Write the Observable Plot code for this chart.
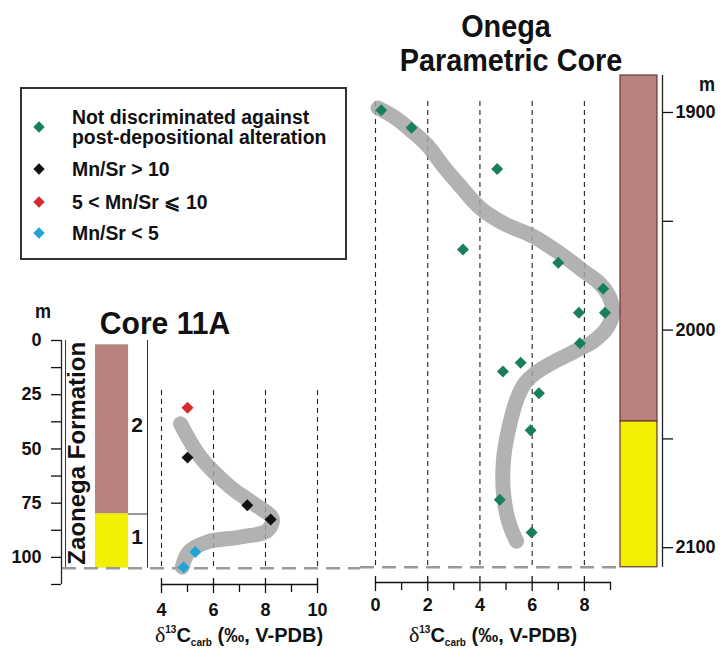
<!DOCTYPE html>
<html><head><meta charset="utf-8">
<script src="https://cdn.jsdelivr.net/npm/d3@7"></script>
<script src="https://cdn.jsdelivr.net/npm/@observablehq/plot@0.6"></script>
<style>
body{margin:0;background:#fff;}
#root{position:relative;width:725px;height:659px;overflow:hidden;font-family:"Liberation Sans",Arial,sans-serif;font-weight:bold;color:#111;}
#root svg{position:absolute;top:0;overflow:visible;background:transparent;}
.t{position:absolute;white-space:nowrap;line-height:1;}
.ttl{font-size:32px;transform:translate(-50%,-50%) scaleX(0.9);}
.lg{font-size:20px;line-height:20px;transform-origin:0 50%;transform:translateY(-50%) scaleX(0.97);}
.dia{position:absolute;width:8px;height:8px;transform:translate(-50%,-50%) rotate(45deg);}
.xt{font-size:20px;transform:translate(-50%,-50%);}
.xt .d{font-family:"Liberation Serif","DejaVu Serif",serif;font-weight:normal;font-size:22px;}
.xt sup{font-size:10px;vertical-align:9px;}
.xt sub{font-size:10px;vertical-align:-4px;}
</style></head><body><div id="root"></div>
<script>
// ---------- data ----------
const groups = ["Not discriminated against post-depositional alteration", "Mn/Sr > 10", "5 < Mn/Sr \u2A7D 10", "Mn/Sr < 5"];
const groupColors = ["#17805a", "#111111", "#d62a2e", "#22a3d8"];

// Core 11A samples
const core11A_d13C  = [5.0, 5.0, 7.3, 8.2, 5.3, 4.85];
const core11A_depth = [31, 54, 76, 82.5, 97.5, 104.5];
const core11A_group = ["5 < Mn/Sr \u2A7D 10", "Mn/Sr > 10", "Mn/Sr > 10", "Mn/Sr > 10", "Mn/Sr < 5", "Mn/Sr < 5"];
// Core 11A trend band
const core11A_trendX = [4.73, 5.5, 6.65, 7.55, 8.26, 8.07, 7.04, 5.76, 5.05, 4.8];
const core11A_trendD = [38.4, 53.8, 67.6, 75.3, 82.2, 87.6, 90.6, 92.9, 97.5, 104.4];
// Core 11A lithology units
const core11A_unitNames = ["2", "1"];
const core11A_unitTop   = [2, 80];
const core11A_unitBase  = [80, 105];
const core11A_depthTicks = [0, 12.5, 25, 37.5, 50, 62.5, 75, 87.5, 100, 112.5];
const core11A_xMajor = [4, 6, 8, 10];
const core11A_xMinor = [5, 7, 9];

// Onega Parametric Core samples
const onega_d13C  = [0.22, 1.38, 4.66, 3.35, 7.0, 8.72, 8.79, 7.79, 7.83, 5.56, 4.88, 6.26, 5.94, 4.76, 5.98];
const onega_depth = [1899, 1907, 1926, 1963, 1969, 1981, 1992, 1992, 2006, 2015, 2019, 2029, 2046, 2078, 2093];
// Onega trend band
const onega_trendX = [0.1, 0.7, 1.34, 1.98, 2.62, 3.26, 4.02, 4.91, 6.06, 7.09, 7.98, 8.62, 9.0, 9.07, 8.87, 8.36, 7.59, 6.7, 6.1, 5.75, 5.44, 5.09, 4.9, 4.9, 5.1, 5.4];
const onega_trendD = [1898, 1902, 1908, 1915, 1925, 1934, 1944, 1951, 1957, 1965, 1973, 1979, 1986, 1993, 1999, 2005, 2010, 2015.5, 2020, 2024, 2031, 2046, 2060, 2075, 2088, 2097];
// Onega lithology units
const onega_unitTop  = [1883, 2042];
const onega_unitBase = [2042, 2109];
const onega_depthTicks = [1900, 1950, 2000, 2050, 2100];
const onega_xMajor = [0, 2, 4, 6, 8];
const onega_xMinor = [1, 3, 5, 7, 9];

const unitColors = ["#b8827f", "#f3ef00"];

// ---------- tables ----------
const core11A = core11A_d13C.map((v, i) => ({x: v, d: core11A_depth[i], g: core11A_group[i]}));
const core11A_trend = core11A_trendX.map((v, i) => ({x: v, d: core11A_trendD[i]}));
const core11A_units = core11A_unitNames.map((n, i) => ({name: n, top: core11A_unitTop[i], base: core11A_unitBase[i], c: unitColors[i]}));
const onega = onega_d13C.map((v, i) => ({x: v, d: onega_depth[i], g: groups[0]}));
const onega_trend = onega_trendX.map((v, i) => ({x: v, d: onega_trendD[i]}));
const onega_units = onega_unitTop.map((t, i) => ({top: t, base: onega_unitBase[i], c: unitColors[i]}));

const root = document.getElementById("root");
const FONT = '"Liberation Sans",Arial,sans-serif';
const baseStyle = {background: "transparent", overflow: "visible", fontFamily: FONT, color: "#111"};
function place(svg, left) { svg.style.left = left + "px"; root.appendChild(svg); }
const bandStyle = {stroke: "#a5a5a5", strokeWidth: 15, strokeOpacity: 0.85, strokeLinecap: "round", strokeLinejoin: "round", curve: "catmull-rom"};
const gridStyle = {stroke: "#222", strokeWidth: 1.1, strokeDasharray: "5,4"};
const corrStyle = {stroke: "#9a9a9a", strokeWidth: 2.5, strokeDasharray: "14,8"};
const tickFont = {fontSize: 18, fontWeight: "bold"};

// A: Core 11A depth axis + lithology column
place(Plot.plot({
  width: 160, height: 659, marginLeft: 61, marginRight: 13, marginTop: 340, marginBottom: 75,
  x: {domain: [0, 1], axis: null},
  y: {domain: [0, 112.5], reverse: true, axis: null},
  style: baseStyle,
  marks: [
    Plot.rect(core11A_units, {x1: 0.395, x2: 0.78, y1: "top", y2: "base", fill: "c"}),
    Plot.ruleX([0.047, 1], {y1: 0, y2: 105, stroke: "#333", strokeWidth: 1}),
    Plot.ruleY([core11A_unitBase[0]], {x1: 0.78, x2: 1, stroke: "#333", strokeWidth: 1}),
    Plot.ruleX([0], {y1: 0, y2: 112.5, stroke: "#222", strokeWidth: 1.3}),
    Plot.axisY(core11A_depthTicks, {anchor: "left", tickSize: 10, tickPadding: 10, strokeWidth: 1.3,
      tickFormat: d => (d % 25 === 0 && d <= 100) ? String(d) : "", label: null, ...tickFont}),
    Plot.text(["Zaonega Formation"], {x: 0.186, y: 52, rotate: -90, fontSize: 24, fontWeight: "bold", fill: "#111"}),
    Plot.text(core11A_units, {x: 0.88, y: d => (d.top + d.base) / 2 - 2, text: "name", fontSize: 21, fontWeight: "bold", fill: "#111"})
  ]
}), 0);

// B: Core 11A δ13C
place(Plot.plot({
  width: 360, height: 659, marginLeft: 161, marginRight: 43, marginTop: 340, marginBottom: 75,
  x: {domain: [4, 10], axis: null},
  y: {domain: [0, 112.5], reverse: true, axis: null},
  color: {domain: groups, range: groupColors},
  style: baseStyle,
  marks: [
    Plot.ruleX(core11A_xMajor, {y1: 23, y2: 105, ...gridStyle}),
    Plot.ruleY([105], {...corrStyle, insetLeft: -99, insetRight: -43}),
    Plot.line(core11A_trend, {x: "x", y: "d", ...bandStyle}),
    Plot.dot(core11A, {x: "x", y: "d", symbol: "diamond2", r: 5.4, fill: "g"}),
    Plot.frame({anchor: "bottom", strokeWidth: 1.3}),
    Plot.axisX(core11A_xMajor, {tickSize: 15, dy: -6, fill: "none", strokeWidth: 1.3}),
    Plot.axisX(core11A_xMinor, {tickSize: 8, fill: "none", strokeWidth: 1.3}),
    Plot.axisX(core11A_xMajor, {tickSize: 0, tickPadding: 19, label: null, ...tickFont})
  ]
}), 0);

// C: Onega δ13C
place(Plot.plot({
  width: 365, height: 659, marginLeft: 15, marginRight: 115, marginTop: 75, marginBottom: 77,
  x: {domain: [0, 9], axis: null},
  y: {domain: [1883, 2116], reverse: true, axis: null},
  color: {domain: groups, range: groupColors},
  style: baseStyle,
  marks: [
    Plot.ruleX(onega_xMajor, {y1: 1895, y2: 2109, ...gridStyle}),
    Plot.ruleY([2109], {...corrStyle, insetLeft: -15, insetRight: -8}),
    Plot.line(onega_trend, {x: "x", y: "d", ...bandStyle}),
    Plot.dot(onega, {x: "x", y: "d", symbol: "diamond2", r: 5.4, fill: "g"}),
    Plot.frame({anchor: "bottom", strokeWidth: 1.3}),
    Plot.axisX(onega_xMajor, {tickSize: 15, dy: -6, fill: "none", strokeWidth: 1.3}),
    Plot.axisX(onega_xMinor, {tickSize: 8, fill: "none", strokeWidth: 1.3}),
    Plot.axisX(onega_xMajor, {tickSize: 0, tickPadding: 16, label: null, ...tickFont})
  ]
}), 360);

// D: Onega lithology column + depth axis
place(Plot.plot({
  width: 125, height: 659, marginLeft: 20, marginRight: 63, marginTop: 75, marginBottom: 77,
  x: {domain: [0, 1], axis: null},
  y: {domain: [1883, 2116], reverse: true, axis: null},
  style: baseStyle,
  marks: [
    Plot.rect(onega_units, {x1: 0, x2: 0.88, y1: "top", y2: "base", fill: "c", stroke: "#6a3535", strokeWidth: 1.2}),
    Plot.ruleX([1], {y1: 1883, y2: 2109, stroke: "#222", strokeWidth: 1.3}),
    Plot.axisY(onega_depthTicks, {anchor: "right", tickSize: 10, tickPadding: 3, strokeWidth: 1.3,
      tickFormat: d => d % 100 === 0 ? String(d) : "", label: null, ...tickFont})
  ]
}), 600);

// ---------- HTML text: titles, legend, axis titles ----------
function addText(html, cls, left, top, extra) {
  const el = document.createElement("div");
  el.className = "t " + cls;
  el.innerHTML = html;
  el.style.left = left + "px"; el.style.top = top + "px";
  if (extra) Object.assign(el.style, extra);
  root.appendChild(el);
  return el;
}
addText("Onega", "ttl", 506, 26);
addText("Parametric Core", "ttl", 511, 60);
addText("Core 11A", "ttl", 165, 323, {transform: "translate(-50%,-50%) scaleX(0.94)"});
addText("m", "ttl", 43, 311, {fontSize: "20px"});
addText("m", "ttl", 707, 84, {fontSize: "20px"});

const xTitle = '<span class="d">\u03B4</span><sup>13</sup>C<sub>carb</sub> (\u2030, V-PDB)';
addText(xTitle, "xt", 239, 636);
addText(xTitle, "xt", 493, 636);

// legend box
const box = document.createElement("div");
Object.assign(box.style, {position: "absolute", left: "20px", top: "87px", width: "323px", height: "169px", border: "2px solid #333"});
root.appendChild(box);
const legendRows = [
  {g: 0, text: "Not discriminated against<br>post-depositional alteration", y: 127},
  {g: 1, text: "Mn/Sr &gt; 10", y: 169},
  {g: 2, text: "5 &lt; Mn/Sr \u2A7D 10", y: 202},
  {g: 3, text: "Mn/Sr &lt; 5", y: 233}
];
legendRows.forEach(r => {
  const d = document.createElement("div");
  d.className = "dia";
  Object.assign(d.style, {left: "39px", top: r.y + "px", background: groupColors[r.g]});
  root.appendChild(d);
  addText(r.text, "lg", 72, r.y);
});
</script></body></html>
